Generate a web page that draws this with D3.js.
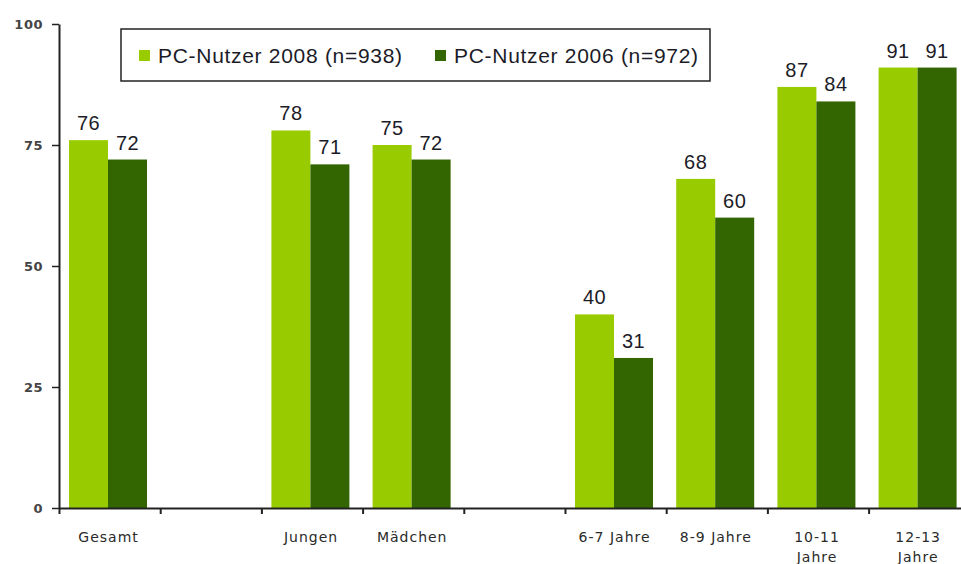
<!DOCTYPE html>
<html>
<head>
<meta charset="utf-8">
<script src="https://cdn.jsdelivr.net/npm/d3@7"></script>
<style>
  html, body { margin: 0; padding: 0; background: #fff; }
  svg { display: block; }
</style>
</head>
<body>
<div id="chart"></div>
<script>
// Categories (null = empty slot between groups)
const slots = ["Gesamt", null, "Jungen", "Mädchen", null, "6-7 Jahre", "8-9 Jahre", "10-11 Jahre", "12-13 Jahre"];
const series = ["PC-Nutzer 2008 (n=938)", "PC-Nutzer 2006 (n=972)"];
const values2008 = [76, null, 78, 75, null, 40, 68, 87, 91];
const values2006 = [72, null, 71, 72, null, 31, 60, 84, 91];
const yTicks = [0, 25, 50, 75, 100];
const colors = ["#99cc00", "#336600"];

const W = 961, H = 564;
const plotLeft = 59, plotBottom = 508, plotTop = 24;
const slotW = 101.2;

const svg = d3.select("#chart")
    .append("svg")
    .attr("width", W)
    .attr("height", H);

// Scales
const y = d3.scaleLinear()
    .domain([0, 100])
    .range([plotBottom, plotTop]);

const x = d3.scaleBand()
    .domain(d3.range(slots.length))
    .range([plotLeft, plotLeft + slots.length * slotW])
    .padding(0);

const x1 = d3.scaleBand()
    .domain(series)
    .range([10, 88]);

// Bars
const rows = slots.map((name, i) => ({ i, name, vals: [values2008[i], values2006[i]] }))
    .filter(d => d.name !== null);

const groups = svg.selectAll("g.grp")
    .data(rows)
    .join("g")
    .attr("class", "grp")
    .attr("transform", d => `translate(${x(d.i)},0)`);

groups.selectAll("rect")
    .data(d => d.vals.map((v, k) => ({ v, s: series[k], k })))
    .join("rect")
    .attr("x", d => x1(d.s))
    .attr("width", x1.bandwidth())
    .attr("y", d => y(d.v))
    .attr("height", d => y(0) - y(d.v))
    .attr("fill", d => colors[d.k]);

// Value labels
groups.selectAll("text.val")
    .data(d => d.vals.map((v, k) => ({ v, s: series[k], k })))
    .join("text")
    .attr("class", "val")
    .attr("x", d => x1(d.s) + x1.bandwidth() / 2)
    .attr("y", d => y(d.v) - 10)
    .attr("text-anchor", "middle")
    .style("font-family", "Liberation Sans, Arial, sans-serif")
    .style("font-size", "20px")
    .style("letter-spacing", "0.5px")
    .style("fill", "#1c1c28")
    .text(d => d.v);

// Y axis
const yAxis = svg.append("g")
    .attr("transform", `translate(${plotLeft},0)`)
    .call(d3.axisLeft(y).tickValues(yTicks).tickSize(7).tickSizeOuter(0).tickPadding(9));
yAxis.select(".domain").attr("stroke", "#222").attr("stroke-width", 2);
yAxis.selectAll(".tick line").attr("stroke", "#222").attr("stroke-width", 1.5);
yAxis.selectAll(".tick text")
    .style("font-family", "DejaVu Sans, Verdana, sans-serif")
    .style("font-size", "13px")
    .style("font-weight", "bold")
    .style("letter-spacing", "0.5px")
    .style("fill", "#444");

// X axis: ticks at slot boundaries
const xb = d3.scaleLinear()
    .domain([0, slots.length])
    .range([plotLeft, plotLeft + slots.length * slotW]);
const xAxis = svg.append("g")
    .attr("transform", `translate(0,${plotBottom})`)
    .call(d3.axisBottom(xb).tickValues(d3.range(0, slots.length + 1)).tickFormat("").tickSize(6).tickSizeOuter(0));
xAxis.select(".domain").attr("stroke", "#222").attr("stroke-width", 2);
xAxis.selectAll(".tick line").attr("stroke", "#222").attr("stroke-width", 2);

// Category labels
const labelLines = {
    "10-11 Jahre": ["10-11", "Jahre"],
    "12-13 Jahre": ["12-13", "Jahre"]
};
const labels = svg.selectAll("text.cat")
    .data(rows)
    .join("text")
    .attr("class", "cat")
    .attr("x", d => x(d.i) + x.bandwidth() / 2 - 1)
    .attr("y", 542)
    .attr("text-anchor", "middle")
    .style("font-family", "DejaVu Sans, Verdana, sans-serif")
    .style("font-size", "14px")
    .style("letter-spacing", "1px")
    .style("fill", "#2a2a2a");
labels.each(function(d) {
    const lines = labelLines[d.name] || [d.name];
    d3.select(this).selectAll("tspan")
        .data(lines)
        .join("tspan")
        .attr("x", x(d.i) + x.bandwidth() / 2 - 1)
        .attr("dy", (l, j) => j === 0 ? 0 : 20)
        .text(l => l);
});

// Legend
const legend = svg.append("g");
legend.append("rect")
    .attr("x", 121).attr("y", 29)
    .attr("width", 589).attr("height", 52)
    .attr("fill", "#fff")
    .attr("stroke", "#222")
    .attr("stroke-width", 1.5);
const legX = [139, 435];
series.forEach((s, k) => {
    legend.append("rect")
        .attr("x", legX[k]).attr("y", 50)
        .attr("width", 11).attr("height", 11)
        .attr("fill", colors[k]);
    legend.append("text")
        .attr("x", legX[k] + 19).attr("y", 63)
        .style("font-family", "Liberation Sans, Arial, sans-serif")
        .style("font-size", "21px")
        .style("letter-spacing", "0.7px")
        .style("fill", "#1c1c28")
        .text(s);
});
</script>
</body>
</html>
